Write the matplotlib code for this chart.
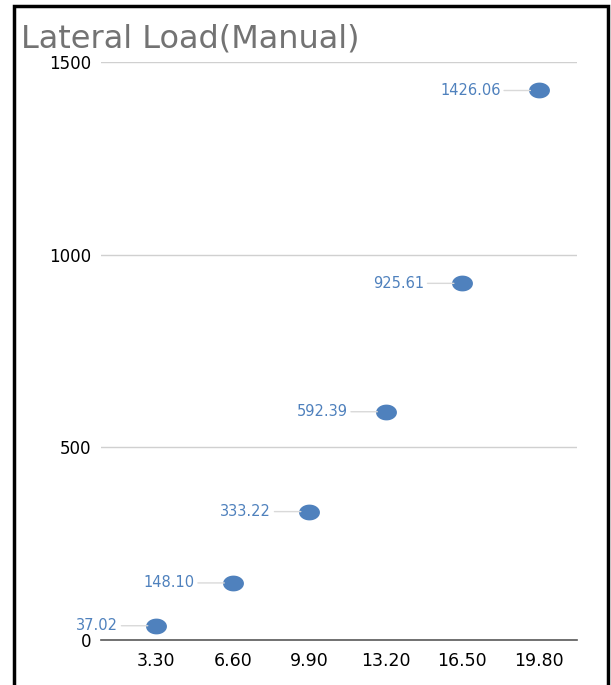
import numpy as np
import matplotlib.pyplot as plt
from matplotlib.patches import Rectangle
from matplotlib.path import Path

# storey heights (m) and manual lateral load values
heights = ['3.30', '6.60', '9.90', '13.20', '16.50', '19.80']
loads = [37.02, 148.10, 333.22, 592.39, 925.61, 1426.06]
yticks = [0, 500, 1000, 1500]

W, H = 611, 685
fig = plt.figure(figsize=(W / 100, H / 100), dpi=100)
ax = fig.add_axes([101 / W, 1 - 640 / H, (577 - 101) / W, (640 - 62) / H])

# slightly wide oval marker like the spreadsheet default
t = np.linspace(0, 2 * np.pi, 60)
oval = Path(np.column_stack([1.35 * np.cos(t), np.sin(t)]), closed=True)

pts_color = '#4F81BD'
x = np.arange(len(heights))
ax.plot(x, loads, linestyle='none', marker=oval, markersize=14,
        color=pts_color, zorder=3)

for xi, v in zip(x, loads):
    # leader line then value label on the left of each point
    ax.annotate('', xy=(xi, v), xytext=(-25, 0), textcoords='offset points',
                arrowprops=dict(arrowstyle='-', color='#D9D9D9', lw=1,
                                shrinkA=0, shrinkB=6))
    ax.annotate(f'{v:.2f}', xy=(xi, v), xytext=(-27.5, 0),
                textcoords='offset points', ha='right', va='center',
                fontsize=10.5, color='#4F81BD')

ax.set_xlim(-0.72, 5.5)
ax.set_ylim(0, 1500)
ax.set_xticks(x)
ax.set_xticklabels(heights)
ax.set_yticks(yticks)
ax.tick_params(axis='both', length=0, labelcolor='black')
ax.tick_params(axis='y', pad=7, labelsize=12)
ax.tick_params(axis='x', pad=9, labelsize=12.5)

ax.grid(axis='y', color='#D0D0D0', lw=1)
ax.set_axisbelow(True)
for side in ['top', 'right', 'left']:
    ax.spines[side].set_visible(False)
ax.spines['bottom'].set_color('#595959')
ax.spines['bottom'].set_linewidth(1.2)

fig.text(21 / W, 1 - 48 / H, 'Lateral Load(Manual)', fontsize=23,
         color='#737373', va='baseline', ha='left')

# black frame around the whole chart
fig.patches.append(Rectangle((13.5 / W, -0.02), (608 - 13.5) / W, 1.02 - 5.5 / H,
                             transform=fig.transFigure, fill=False,
                             edgecolor='black', lw=2.5))

fig.savefig('out.png', dpi=100)
